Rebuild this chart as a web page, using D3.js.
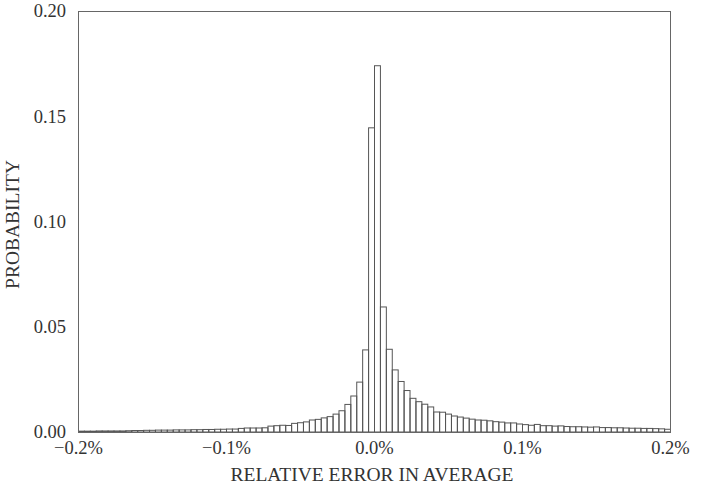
<!DOCTYPE html>
<html>
<head>
<meta charset="utf-8">
<script src="https://cdn.jsdelivr.net/npm/d3@7/dist/d3.min.js"></script>
<style>
  html, body { margin: 0; padding: 0; background: #fff; }
  svg text { font-family: "Liberation Serif", "Times New Roman", serif; fill: #333; }
</style>
</head>
<body>
<svg id="chart" width="702" height="490"></svg>
<script>
// Histogram bins: 100 bins of width 0.004 (%) from -0.2% to 0.2%
const binLo = -0.2;
const binWidth = 0.004;
const probability = [
  0.0004, 0.0004, 0.0004, 0.0005, 0.0005, 0.0005, 0.0005, 0.0005, 0.0006, 0.0007,
  0.0007, 0.0008, 0.0008, 0.0009, 0.0009, 0.0009, 0.0010, 0.0010, 0.0010, 0.0011,
  0.0011, 0.0012, 0.0012, 0.0013, 0.0013, 0.0014, 0.0014, 0.0017, 0.0019, 0.0019,
  0.0019, 0.0020, 0.0028, 0.0030, 0.0032, 0.0031, 0.0041, 0.0044, 0.0048, 0.0057,
  0.0060, 0.0067, 0.0073, 0.0085, 0.0101, 0.0131, 0.0171, 0.0237, 0.0390, 0.1445,
  0.1740, 0.0594, 0.0393, 0.0295, 0.0240, 0.0197, 0.0160, 0.0144, 0.0132, 0.0119,
  0.0095, 0.0094, 0.0085, 0.0076, 0.0071, 0.0066, 0.0061, 0.0057, 0.0056, 0.0053,
  0.0049, 0.0047, 0.0043, 0.0043, 0.0038, 0.0035, 0.0032, 0.0036, 0.0030, 0.0030,
  0.0028, 0.0029, 0.0026, 0.0025, 0.0025, 0.0024, 0.0023, 0.0024, 0.0021, 0.0021,
  0.0020, 0.0020, 0.0019, 0.0018, 0.0018, 0.0017, 0.0017, 0.0016, 0.0015, 0.0013
];
const xTicks = [-0.2, -0.1, 0.0, 0.1, 0.2];
const xTickLabels = ["\u22120.2%", "\u22120.1%", "0.0%", "0.1%", "0.2%"];
const yTicks = [0.00, 0.05, 0.10, 0.15, 0.20];
const yTickLabels = ["0.00", "0.05", "0.10", "0.15", "0.20"];
const xTitle = "RELATIVE ERROR IN AVERAGE";
const yTitle = "PROBABILITY";

const svg = d3.select("#chart");
const L = 78, R = 670, T = 11, B = 432;

const x = d3.scaleLinear().domain([-0.2, 0.2]).range([L, R]);
const y = d3.scaleLinear().domain([0, 0.2]).range([B, T]);

const bins = probability.map((p, i) => ({ x0: binLo + i * binWidth, x1: binLo + (i + 1) * binWidth, p }));

// bars
svg.append("g")
  .selectAll("rect")
  .data(bins)
  .join("rect")
  .attr("x", d => x(d.x0) + 0.5)
  .attr("y", d => y(d.p))
  .attr("width", d => x(d.x1) - x(d.x0))
  .attr("height", d => y(0) - y(d.p))
  .attr("fill", "none")
  .attr("stroke", "#555")
  .attr("stroke-width", 1);

// frame
svg.append("rect")
  .attr("x", L + 0.5).attr("y", T + 0.5)
  .attr("width", R - L).attr("height", B - T)
  .attr("fill", "none").attr("stroke", "#666").attr("stroke-width", 1);

// axes (labels only, no tick lines)
const xAxis = d3.axisBottom(x).tickValues(xTicks)
  .tickFormat((d, i) => xTickLabels[i]).tickSize(0).tickPadding(9);
const gx = svg.append("g").attr("transform", `translate(0,${B})`).call(xAxis);
gx.select(".domain").remove();
gx.selectAll("text").attr("font-size", 18.5).attr("fill", "#333");

const yAxis = d3.axisLeft(y).tickValues(yTicks)
  .tickFormat((d, i) => yTickLabels[i]).tickSize(0).tickPadding(12);
const gy = svg.append("g").attr("transform", `translate(${L},0)`).call(yAxis);
gy.select(".domain").remove();
gy.selectAll("text").attr("font-size", 18.5).attr("fill", "#333");

// titles
svg.append("text")
  .attr("x", (L + R) / 2 - 2).attr("y", 481)
  .attr("text-anchor", "middle").attr("font-size", 19.5)
  .text(xTitle);

svg.append("text")
  .attr("transform", `translate(19,${(T + B) / 2 + 3}) rotate(-90)`)
  .attr("text-anchor", "middle").attr("font-size", 19.5)
  .text(yTitle);
</script>
</body>
</html>
